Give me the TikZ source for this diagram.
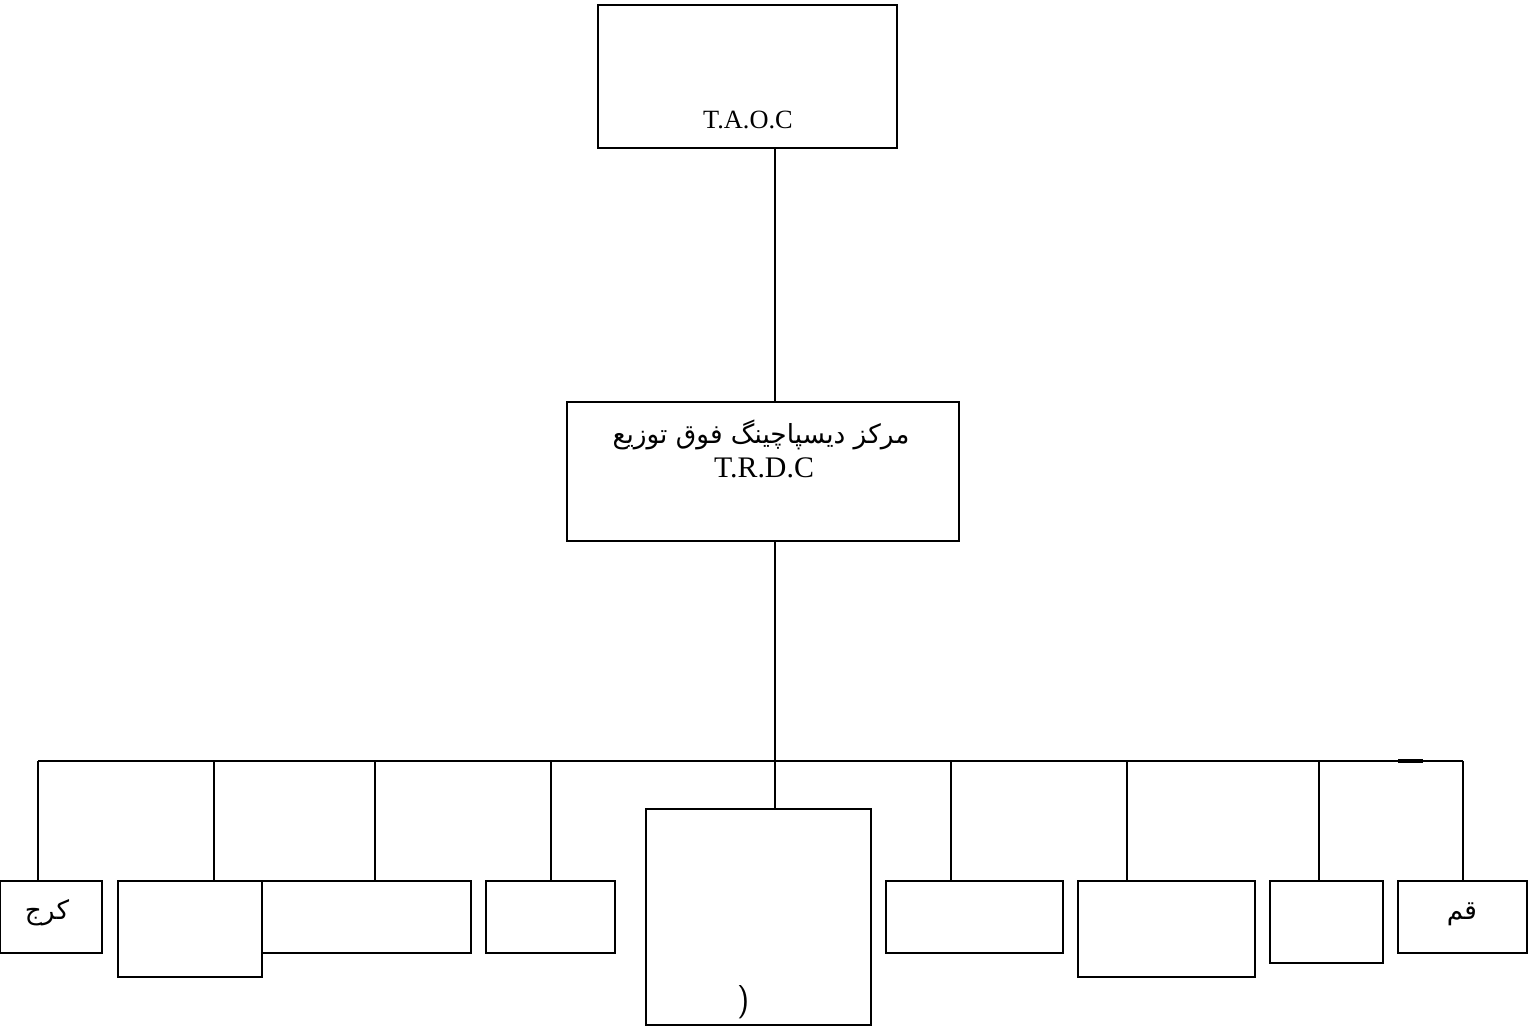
\documentclass[tikz,border=0pt]{standalone}
\usepackage{fontspec}
\setmainfont{Liberation Serif}
\newfontfamily\farsi[Script=Arabic]{DejaVu Sans}
\TeXXeTstate=1
\usetikzlibrary{positioning}
\def\u{0.02cm}
\tikzset{
  unit/.style={draw, rectangle, line width=1pt, inner sep=0pt},
  link/.style={line width=1pt},
  lat/.style={font=\fontsize{15}{18}\selectfont, inner sep=0pt},
  fa/.style={font=\farsi\fontsize{15}{18}\selectfont, inner sep=0pt}
}
\begin{document}
\begin{tikzpicture}[x=\u, y=-\u]
  \useasboundingbox (0,0) rectangle (1536,1027);

  % upper levels
  \node [unit, minimum width=299*\u, minimum height=143*\u] (taoc) at (747.5,76.5) {};
  \node [lat] (taoctext) at (748,120) {T.A.O.C};
  \node [unit, minimum width=392*\u, minimum height=139*\u] (trdc) at (763,471.5) {};
  \node [fa] (trdcfa) at (761,435) {\beginR مرکز دیسپاچینگ فوق توزیع\endR};
  \node [lat, font=\fontsize{17}{20}\selectfont] (trdctext) at (764,468) {T.R.D.C};

  \draw [link] (taoc.south -| 775,0) -- (trdc.north -| 775,0);

  % bottom row
  \node [unit, minimum width=102*\u, minimum height=72*\u] (karaj) at (51,917) {};
  \node [fa] at (47,913) {\beginR کرج\endR};
  \node [unit, minimum width=144*\u, minimum height=96*\u] (b2) at (190,929) {};
  \node [unit, minimum width=209*\u, minimum height=72*\u] (b3) at (366.5,917) {};
  \node [unit, minimum width=129*\u, minimum height=72*\u] (b4) at (550.5,917) {};
  \node [unit, minimum width=225*\u, minimum height=216*\u] (b5) at (758.5,917) {};
  \node [lat, font=\sffamily\fontsize{19}{22}\selectfont] at (744,1002) {)};
  \node [unit, minimum width=177*\u, minimum height=72*\u] (b6) at (974.5,917) {};
  \node [unit, minimum width=177*\u, minimum height=96*\u] (b7) at (1166.5,929) {};
  \node [unit, minimum width=113*\u, minimum height=82*\u] (b8) at (1326.5,922) {};
  \node [unit, minimum width=129*\u, minimum height=72*\u] (qom) at (1462.5,917) {};
  \node [fa] at (1462,914) {\beginR قم\endR};

  % bus
  \coordinate (busl) at (38,761);
  \coordinate (busr) at (1463,761);
  \coordinate (busm) at (775,761);
  \draw [link] (trdc.south -| busm) -- (busm);
  \draw [link] (busl) -- (busr);
  \draw [line width=2pt] (1398,761) -- (1423,761);

  \draw [link] (busl) -- (busl |- karaj.north);
  \draw [link] (214,761) -- (214,881);
  \draw [link] (375,761) -- (375,881);
  \draw [link] (551,761) -- (551,881);
  \draw [link] (busm) -- (busm |- b5.north);
  \draw [link] (951,761) -- (951,881);
  \draw [link] (1127,761) -- (1127,881);
  \draw [link] (1319,761) -- (1319,881);
  \draw [link] (busr) -- (busr |- qom.north);
\end{tikzpicture}
\end{document}
